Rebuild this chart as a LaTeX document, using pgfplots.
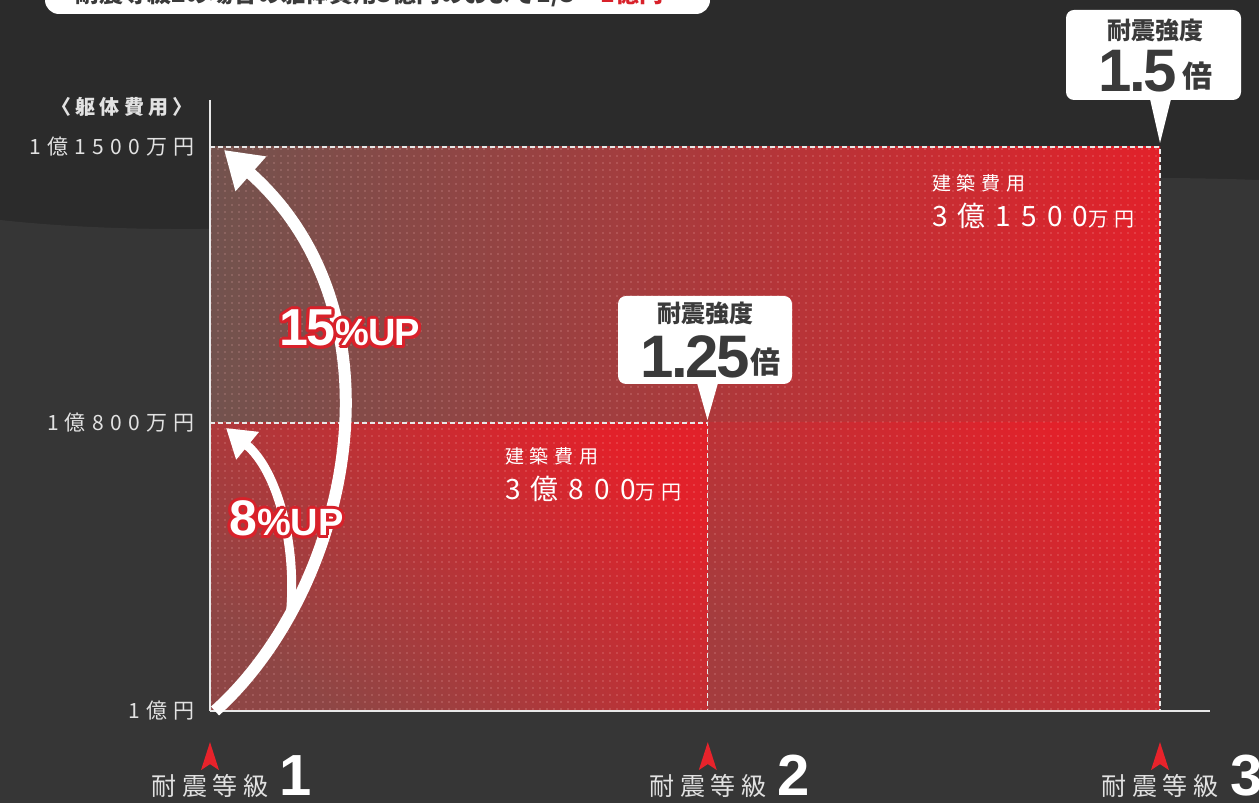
\documentclass[border=0pt]{standalone}
\usepackage{pgfplots}
\pgfplotsset{compat=1.18}
\usepackage{fontspec}
\usetikzlibrary{arrows.meta,patterns.meta}
\setmainfont{Noto Sans CJK JP}
\newfontfamily\jls{Noto Sans CJK JP}[LetterSpace=30]
\newfontfamily\jlsr{Noto Sans CJK JP}[LetterSpace=36]
\newfontfamily\jlsb{Noto Sans CJK JP}[LetterSpace=22]
\newfontfamily\arialfont{Liberation Sans}

\definecolor{bgdark}{HTML}{2B2B2B}
\definecolor{bglight}{HTML}{363636}
\definecolor{axisgray}{HTML}{E8E8E8}
\definecolor{txtgray}{HTML}{E2E2E2}
\definecolor{fillgray}{HTML}{72534E}
\definecolor{fillred}{HTML}{E2212A}
\definecolor{midred}{HTML}{C7362F}
\definecolor{markred}{HTML}{E8232B}
\definecolor{boxtext}{HTML}{3A3A3A}
\definecolor{upred}{HTML}{D8212A}

\pgfdeclarepattern{name=dotgrid, type=uncolored,
  bottom left={\pgfpoint{0pt}{0pt}}, top right={\pgfpoint{6.5pt}{6.5pt}},
  tile size={\pgfpoint{6.5pt}{6.5pt}},
  code={\pgfpathcircle{\pgfpoint{3.25pt}{3.25pt}}{0.9pt}\pgfusepath{fill}}}

\pgfdeclareplotmark{stealthup}{%
  \pgfpathmoveto{\pgfpoint{0pt}{14pt}}%
  \pgfpathlineto{\pgfpoint{9pt}{-14pt}}%
  \pgfpathlineto{\pgfpoint{0pt}{-8pt}}%
  \pgfpathlineto{\pgfpoint{-9pt}{-14pt}}%
  \pgfpathclose\pgfusepathqfill}

\newcommand\xl[1]{\makebox[0pt][c]{\fontsize{25}{28}\jlsb\color{txtgray}耐震等級}\rlap{\hspace{70pt}\fontsize{58}{58}\arialfont\bfseries\color{white}#1}}

\newcommand\uptext[3]{% x y text
  \foreach \a in {0,22.5,...,337.5}{
    \node[anchor=base west, inner sep=0, text=upred, xshift={3*cos(\a)*1pt}, yshift={3*sin(\a)*1pt}] at (#1,#2) {#3};}
  \node[anchor=base west, inner sep=0, text=white] at (#1,#2) {#3};}

\begin{document}
\begin{tikzpicture}
\useasboundingbox (0,0) rectangle (1259pt,803pt);
\fill[bgdark] (0,0) rectangle (1259pt,803pt);
\fill[bglight] (0,0) -- (0,583pt) .. controls (350pt,545pt) and (800pt,640pt) .. (1259pt,623pt) -- (1259pt,0) -- cycle;

% title box (cut off at top)
\fill[white, rounded corners=14pt] (45pt,789pt) rectangle (710pt,840pt);
\node[anchor=base west, inner sep=0, text=boxtext, font=\fontsize{24}{26}\bfseries] at (75pt,800pt) {耐震等級2の場合の躯体費用3億円のおよそ1/3 = \textcolor{upred}{1億円}};

\begin{axis}[
  at={(210pt,92pt)}, anchor=south west,
  scale only axis, width=1000pt, height=611pt,
  xmin=1, xmax=1.5263, ymin=10000, ymax=11625,
  scaled ticks=false,
  axis x line=bottom, axis y line=left,
  axis line style={-, draw=axisgray, line width=2pt},
  axis on top,
  clip=false,
  major tick length=0pt,
  xtick={1,1.262,1.5},
  xticklabels={{\xl{1}},{\xl{2}},{\xl{3}}},
  xticklabel style={anchor=base, yshift=-85pt},
  ytick={10000,10766,11500},
  yticklabels={{1億円},{1億800万円},{1億1500万円}},
  yticklabel style={font=\fontsize{21}{24}\jls, text=txtgray, anchor=east, xshift=-12pt},
]
% total cost grade 3 (upper part)
\addplot[draw=none, left color=fillgray, middle color=midred, right color=fillred]
  coordinates {(1,10766) (1.5,10766) (1.5,11500) (1,11500)} -- cycle;
% grade 2 block
\addplot[draw=none, bottom color=fillgray!75!fillred, top color=fillred, shading angle=-40]
  coordinates {(1,10000) (1.262,10000) (1.262,10766) (1,10766)} -- cycle;
% grade 3 lower right
\addplot[draw=none, bottom color=fillgray!55!fillred, top color=fillred, shading angle=-40]
  coordinates {(1.262,10000) (1.5,10000) (1.5,10766) (1.262,10766)} -- cycle;
% dot texture
\addplot[draw=none, pattern=dotgrid, pattern color=white!75!red, fill opacity=0.35]
  coordinates {(1,10000) (1.5,10000) (1.5,11500) (1,11500)} -- cycle;
% dashed outlines
\addplot[draw=axisgray, line width=1.3pt, dash pattern=on 5pt off 3pt]
  coordinates {(1,11500) (1.5,11500) (1.5,10000)};
\addplot[draw=axisgray, line width=1.3pt, dash pattern=on 5pt off 3pt]
  coordinates {(1,10766) (1.262,10766) (1.262,10000)};
% red tick arrows
\addplot[only marks, mark=stealthup, color=markred]
  coordinates {(1,9880) (1.262,9880) (1.5,9880)};
\end{axis}

% y axis title
\node[text=txtgray, font=\fontsize{20}{22}\jlsb\bfseries] at (122pt,696pt) {〈躯体費用〉};

% arrows
\draw[white, line width=12pt, -{Triangle[width=44pt,length=36pt]}]
  (215pt,92pt) .. controls (350pt,213pt) and (410pt,488pt) .. (224pt,653pt);
\draw[white, line width=9pt, -{Triangle[width=34pt,length=28pt]}]
  (290pt,185pt) .. controls (298pt,258pt) and (277pt,333pt) .. (226pt,375pt);

% UP labels
\uptext{279pt}{457pt}{\arialfont\bfseries\addfontfeatures{LetterSpace=-3}\fontsize{52}{52}\selectfont 15\fontsize{38}{38}\selectfont\%UP}
\uptext{229pt}{267pt}{\arialfont\bfseries\fontsize{50}{50}\selectfont 8\fontsize{38}{38}\selectfont\%UP}

% region texts
\node[anchor=south west, inner sep=0, text=white, font=\fontsize{19}{20}\jls] at (505pt,338pt) {建築費用};
\node[anchor=base west, inner sep=0, text=white] at (505pt,303pt) {\fontsize{28}{30}\jlsr 3億800\fontsize{20}{22}\jls 万円};
\node[anchor=south west, inner sep=0, text=white, font=\fontsize{19}{20}\jls] at (932pt,611pt) {建築費用};
\node[anchor=base west, inner sep=0, text=white] at (932pt,576pt) {\fontsize{28}{30}\jlsr 3億1500\fontsize{20}{22}\jls 万円};

% callout 1.25
\fill[white, rounded corners=8pt] (618pt,419pt) rectangle (792pt,507pt);
\fill[white] (697pt,420pt) -- (718pt,420pt) -- (707.5pt,383pt) -- cycle;
\node[text=boxtext, font=\fontsize{24}{26}\bfseries] at (705pt,490pt) {耐震強度};
\node[anchor=base west, inner sep=0, text=boxtext, font=\fontsize{60}{60}\arialfont\bfseries\addfontfeatures{LetterSpace=-4}] at (640pt,425pt) {1.25};
\node[anchor=base west, inner sep=0, text=boxtext, font=\fontsize{30}{30}\bfseries] at (750pt,429pt) {倍};

% callout 1.5
\fill[white, rounded corners=8pt] (1066pt,703pt) rectangle (1241pt,793pt);
\fill[white] (1150pt,704pt) -- (1171pt,704pt) -- (1160pt,660pt) -- cycle;
\node[text=boxtext, font=\fontsize{24}{26}\bfseries] at (1155pt,773pt) {耐震強度};
\node[anchor=base west, inner sep=0, text=boxtext, font=\fontsize{60}{60}\arialfont\bfseries\addfontfeatures{LetterSpace=-4}] at (1098pt,711pt) {1.5};
\node[anchor=base west, inner sep=0, text=boxtext, font=\fontsize{30}{30}\bfseries] at (1182pt,715pt) {倍};
\end{tikzpicture}
\end{document}
